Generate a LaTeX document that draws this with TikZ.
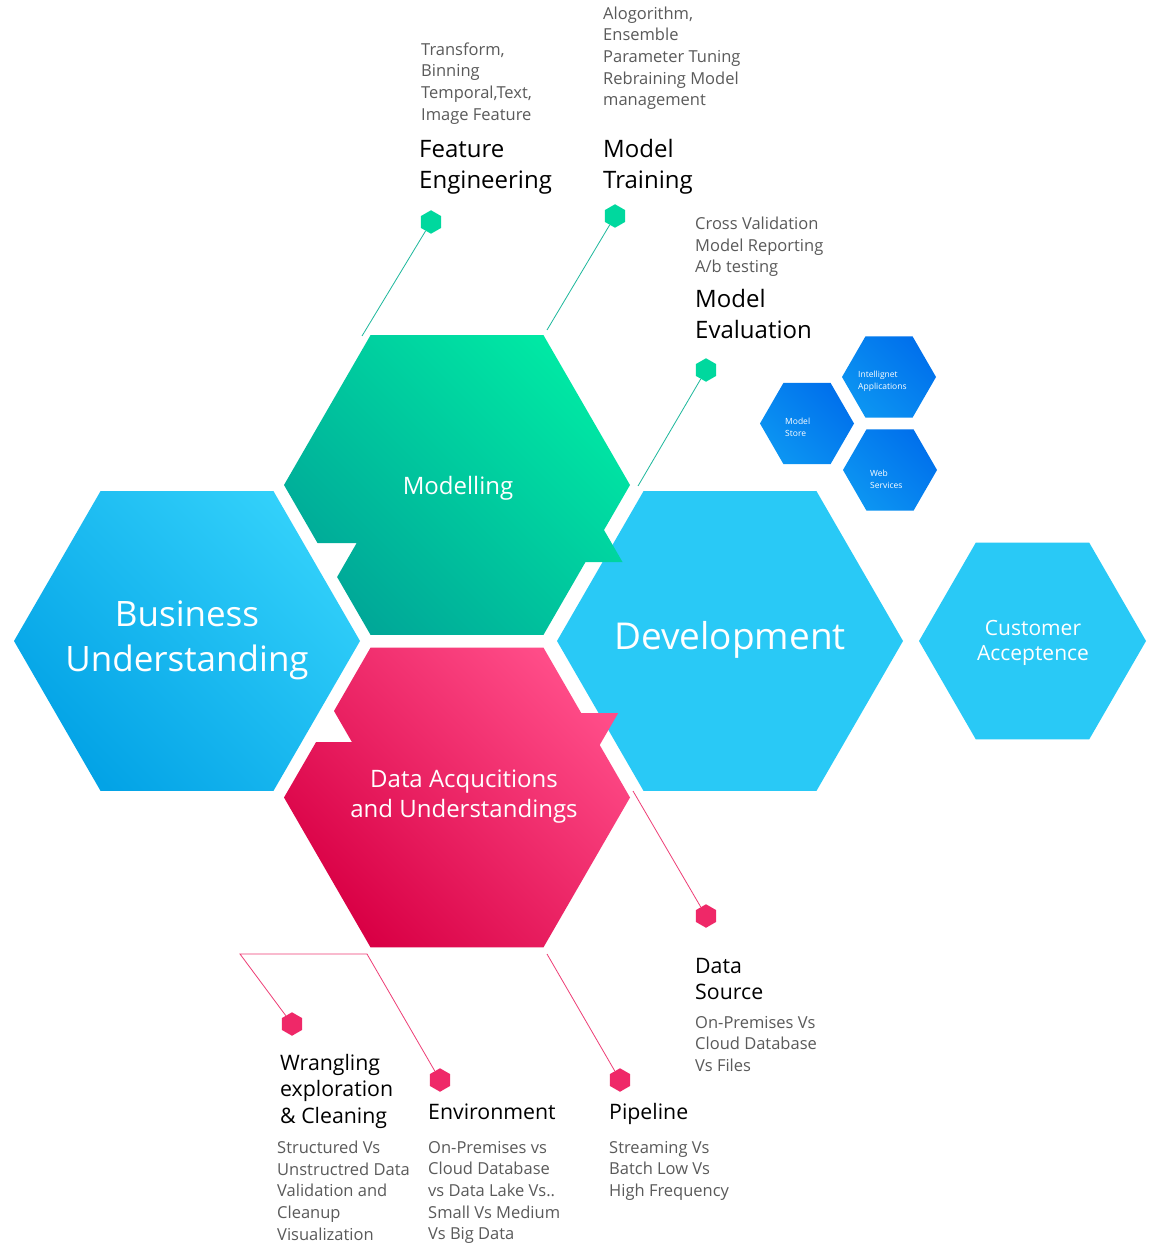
\documentclass[tikz,border=0pt]{standalone}
\usepackage{fontspec}
\setmainfont{Open Sans}
\usetikzlibrary{shapes.geometric}
\definecolor{bizA}{HTML}{03A3E6}
\definecolor{bizB}{HTML}{32D0FA}
\definecolor{devC}{HTML}{29C9F6}
\definecolor{modA}{HTML}{00A898}
\definecolor{modB}{HTML}{00E8A4}
\definecolor{datA}{HTML}{D90045}
\definecolor{datB}{HTML}{FF4C88}
\definecolor{blueA}{HTML}{0C95F2}
\definecolor{blueB}{HTML}{0070EC}
\definecolor{gmark}{HTML}{00D89E}
\definecolor{pmark}{HTML}{EF2868}
\definecolor{gline}{HTML}{1DB89C}
\definecolor{pline}{HTML}{EE3E76}
\definecolor{txtgray}{HTML}{5A5A5A}
\newcommand\hexat[3]{({#1-#3},#2) -- ({#1-#3/2},{#2-0.8660*#3}) -- ({#1+#3/2},{#2-0.8660*#3}) -- ({#1+#3},#2) -- ({#1+#3/2},{#2+0.8660*#3}) -- ({#1-#3/2},{#2+0.8660*#3}) -- cycle}
\tikzset{
  small/.style={font=\fontsize{16.5}{21.6}\selectfont, text=txtgray, align=left, anchor=north west, inner sep=0pt},
  head/.style={font=\fontsize{24}{31.5}\selectfont, text=black, align=left, anchor=north west, inner sep=0pt},
  headb/.style={font=\fontsize{21.3}{26.5}\selectfont, text=black, align=left, anchor=north west, inner sep=0pt},
  biglabel/.style={text=white, align=center, inner sep=0pt},
  tinylabel/.style={text=white, align=left, anchor=west, inner sep=0pt, font=\fontsize{8.5}{12}\selectfont},
  gmarker/.style={regular polygon, regular polygon sides=6, shape border rotate=30, minimum size=23.5pt, inner sep=0pt, fill=gmark},
  pmarker/.style={regular polygon, regular polygon sides=6, shape border rotate=30, minimum size=23.5pt, inner sep=0pt, fill=pmark},
  gconn/.style={draw=gline, line width=0.8pt},
  pconn/.style={draw=pline, line width=0.8pt},
  bizfill/.style={top color=bizB, bottom color=bizA, shading angle=-45},
  modfill/.style={top color=modB, bottom color=modA, shading angle=-45},
  datfill/.style={top color=datB, bottom color=datA, shading angle=-45},
  bluefill/.style={top color=blueB, bottom color=blueA, shading angle=-45},
}
\begin{document}
\begin{tikzpicture}[x=1pt,y=-1pt]
\useasboundingbox[fill=white] (0,0) rectangle (1161,1246);
% big hexagons
\fill[devC] \hexat{730}{641}{173};
\fill[devC] \hexat{1032.5}{641}{113.5};
\shade[bizfill] \hexat{187}{641}{173};
% Modelling with notch and tab
\shade[modfill] (630,485) -- (604,530) -- (622.5,562) -- (585.5,562) -- (543.5,634.8) -- (370.5,634.8)
  -- (337.1,577) -- (356.7,543) -- (317.5,543) -- (284,485) -- (370.5,335.2) -- (543.5,335.2) -- cycle;
% Data acquisition with notch and tab
\shade[datfill] (284,797.5) -- (316.1,742) -- (351.9,742) -- (334,711) -- (370.5,647.7) -- (543.5,647.7)
  -- (581.2,713) -- (618.2,713) -- (599.7,745) -- (630,797.5) -- (543.5,947.3) -- (370.5,947.3) -- cycle;
% small blue hexagons
\shade[bluefill] \hexat{889}{377}{47};
\shade[bluefill] \hexat{807}{423.5}{47};
\shade[bluefill] \hexat{890}{470}{47};
% big labels
\node[biglabel, font=\fontsize{35}{45}\selectfont] (lBU) at (187,640) {Business\\Understanding};
\node[biglabel, font=\fontsize{24}{30}\selectfont] (lMO) at (458,488) {Modelling};
\node[biglabel, font=\fontsize{24}{30}\selectfont] (lDA) at (464,797) {Data Acqucitions\\and Understandings};
\node[biglabel, font=\fontsize{37}{45}\selectfont] (lDE) at (730,640) {Development};
\node[biglabel, font=\fontsize{21}{25}\selectfont] (lCA) at (1033,643) {Customer\\Acceptence};
\node[tinylabel] (lIA) at (858,381) {Intellignet\\Applications};
\node[tinylabel] (lMS) at (785,427) {Model\\Store};
\node[tinylabel] (lWS) at (870,479) {Web\\Services};
% markers
\node[gmarker] (mFE) at (431,222) {};
\node[gmarker] (mMT) at (615,216) {};
\node[gmarker] (mME) at (706,370) {};
\node[pmarker] (mDS) at (706,916) {};
\node[pmarker] (mWR) at (292,1024) {};
\node[pmarker] (mEN) at (440,1080) {};
\node[pmarker] (mPL) at (620,1080) {};
% connector end points
\coordinate (cFE) at (362,336);
\coordinate (cMT) at (547,330);
\coordinate (cME) at (638,486);
\coordinate (cDS) at (633,791);
\coordinate (hL) at (240,954);
\coordinate (hR) at (367,954);
\coordinate (cPL) at (547,954);
% connectors
\draw[gconn] (mFE) -- (cFE);
\draw[gconn] (mMT) -- (cMT);
\draw[gconn] (mME) -- (cME);
\draw[pconn] (mDS) -- (cDS);
\draw[pconn] (mWR) -- (hL) -- (hR) -- (mEN);
\draw[pconn] (mPL) -- (cPL);
% text blocks
\node[small] (tFE) at (421,42.5) {Transform,\\Binning\\Temporal,Text,\\Image Feature};
\node[head] (hFE) at (419,140) {Feature\\Engineering};
\node[small] (tMT) at (603,6.5) {Alogorithm,\\Ensemble\\Parameter Tuning\\Rebraining Model\\management};
\node[head] (hMT) at (603,139) {Model\\Training};
\node[small] (tME) at (695,217) {Cross Validation\\Model Reporting\\A/b testing};
\node[head] (hME) at (695,289) {Model\\Evaluation};
\node[headb] (hDS) at (695,958) {Data\\Source};
\node[small] (tDS) at (695,1016) {On-Premises Vs\\Cloud Database\\Vs Files};
\node[headb] (hWR) at (280,1054) {Wrangling\\exploration\\\& Cleaning};
\node[small] (tWR) at (277,1141) {Structured Vs\\Unstructred Data\\Validation and\\Cleanup\\Visualization};
\node[headb] (hEN) at (428,1104) {Environment};
\node[small] (tEN) at (428,1141) {On-Premises vs\\Cloud Database\\vs Data Lake Vs..\\Small Vs Medium\\Vs Big Data};
\node[headb] (hPL) at (609,1103) {Pipeline};
\node[small] (tPL) at (609,1141) {Streaming Vs\\Batch Low Vs\\High Frequency};
\end{tikzpicture}
\end{document}
